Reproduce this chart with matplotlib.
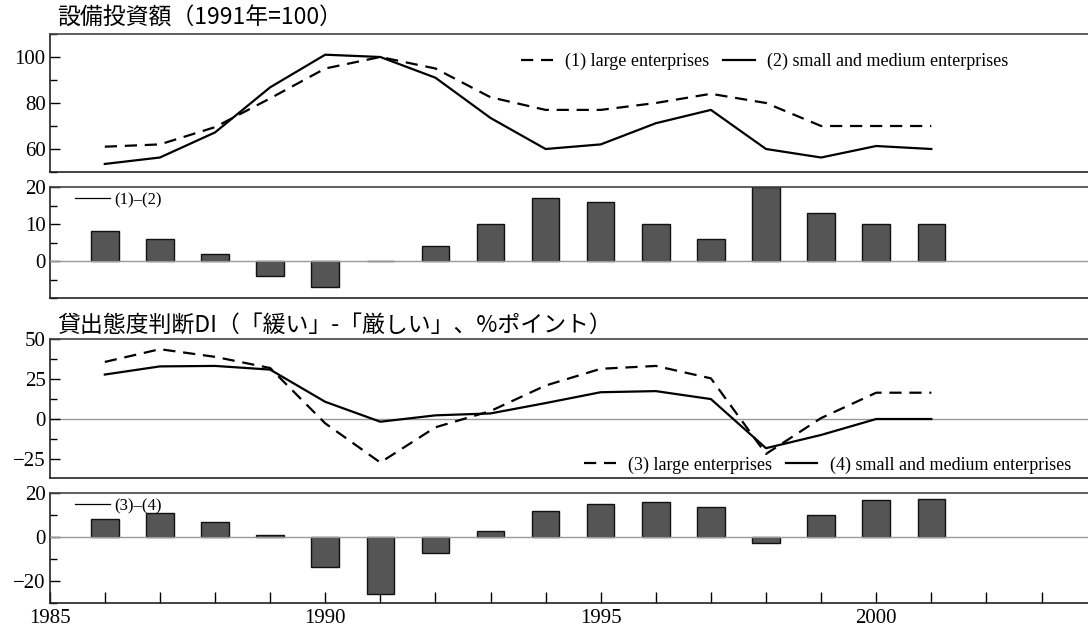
import matplotlib
matplotlib.use("Agg")
import matplotlib.pyplot as plt
import numpy as np
from matplotlib.ticker import MultipleLocator

years = list(range(1986, 2002))

# 設備投資額 (1991=100)
capex_large = [61, 62, 69.5, 82, 95, 100, 95, 82.5, 77, 77, 80, 84, 80, 70, 70, 70]
capex_sme = [53.5, 56.3, 67.2, 86.8, 101, 100, 91, 73.5, 60, 62, 71.2, 77, 60, 56.3, 61.3, 60]
capex_diff = [8, 6, 2, -4, -7, 0, 4, 10, 17, 16, 10, 6, 20, 13, 10, 10]

# 貸出態度判断DI
di_large = [35.8, 43.8, 39, 32, -2.7, -27.3, -5.2, 5, 21, 31.5, 33.3, 25.5, -21.9, 0.6, 16.5, 16.5]
di_sme = [27.9, 33, 33.3, 31, 10.8, -1.7, 2.3, 3.5, 10, 16.8, 17.5, 12.5, -18.3, -10, 0, 0]
di_diff = [8, 11, 6.5, 1, -13.5, -26, -7.5, 2.5, 11.5, 15, 16, 13.5, -3, 10, 16.5, 17]

title1 = "設備投資額（1991年=100）"
title2 = "貸出態度判断DI（「緩い」-「厳しい」、%ポイント）"

W, H = 1088, 628
serif = ["Liberation Serif", "DejaVu Serif"]
cjk = ["Noto Sans CJK JP", "DejaVu Sans"]
tick_size = 15

fig = plt.figure(figsize=(W / 100, H / 100), dpi=100)

left = 49.7 / W
xmin, xmax = 1985, 1985 + (W - 49.7) / 55.1


def make_ax(top_px, bot_px):
    ax = fig.add_axes([left, 1 - bot_px / H, 1 - left, (bot_px - top_px) / H])
    ax.set_xlim(xmin, xmax)
    for side in ["left", "bottom", "top"]:
        ax.spines[side].set_color("#222222")
        ax.spines[side].set_linewidth(1.2)
    ax.spines["top"].set_color("#444444")
    ax.spines["right"].set_visible(False)
    ax.tick_params(axis="y", which="both", direction="in", length=7, width=1,
                   labelsize=tick_size, pad=3)
    ax.tick_params(axis="y", which="minor", length=5)
    ax.tick_params(axis="x", which="both", bottom=False, labelbottom=False)
    return ax


def style_ticks(ax):
    for lab in ax.get_yticklabels() + ax.get_xticklabels():
        lab.set_family(serif)


line_kw = dict(color="black", lw=1.6)
dash_kw = dict(color="black", lw=1.6, dashes=(5.5, 3.5))
bar_kw = dict(width=0.5, color="#555555", edgecolor="#111111", linewidth=1, zorder=2)
zero_kw = dict(color="#999999", lw=1, zorder=3)
big_leg = dict(frameon=False, prop={"family": serif, "size": 13}, ncol=2,
               handlelength=1.75, handletextpad=0.7, columnspacing=0.75,
               borderpad=0, borderaxespad=0)
small_leg = dict(frameon=False, prop={"family": serif, "size": 12},
                 handlelength=2.1, handletextpad=0.3, borderpad=0, borderaxespad=0)

# panel 1
ax1 = make_ax(34, 172)
ax1.plot(years, capex_large, label="(1) large enterprises", **dash_kw)
ax1.plot(years, capex_sme, label="(2) small and medium enterprises", **line_kw)
ax1.set_ylim(50, 110)
ax1.set_yticks([60, 80, 100])
ax1.yaxis.set_minor_locator(MultipleLocator(10))
ax1.legend(loc="center left", bbox_to_anchor=(0.454, 0.80), **big_leg)
style_ticks(ax1)

# panel 2
ax2 = make_ax(187, 298)
ax2.bar(years, capex_diff, **bar_kw)
ax2.axhline(0, **zero_kw)
ax2.plot([], [], color="black", lw=0.9, label="(1)\u2013(2)")
ax2.set_ylim(-10, 20)
ax2.set_yticks([0, 10, 20])
ax2.yaxis.set_minor_locator(MultipleLocator(5))
ax2.legend(loc="center left", bbox_to_anchor=(0.024, 0.883), **small_leg)
style_ticks(ax2)

# panel 3
ax3 = make_ax(339.3, 478)
ax3.axhline(0, color="#999999", lw=1, zorder=0)
ax3.plot(years, di_large, label="(3) large enterprises", **dash_kw)
ax3.plot(years, di_sme, label="(4) small and medium enterprises", **line_kw)
ax3.set_ylim(-37, 50)
ax3.set_yticks([-25, 0, 25, 50])
ax3.yaxis.set_minor_locator(MultipleLocator(12.5))
ax3.legend(loc="center left", bbox_to_anchor=(0.5146, 0.094), **big_leg)
style_ticks(ax3)

# panel 4
ax4 = make_ax(492.7, 603)
ax4.bar(years, di_diff, **bar_kw)
ax4.axhline(0, **zero_kw)
ax4.plot([], [], color="black", lw=0.9, label="(3)\u2013(4)")
ax4.set_ylim(-30, 20)
ax4.set_yticks([-20, 0, 20])
ax4.yaxis.set_minor_locator(MultipleLocator(10))
ax4.legend(loc="center left", bbox_to_anchor=(0.024, 0.879), **small_leg)
ax4.tick_params(axis="x", which="both", bottom=True, labelbottom=True,
                direction="in", length=8, width=1, labelsize=tick_size, pad=4)
ax4.set_xticks([1985, 1990, 1995, 2000])
ax4.xaxis.set_minor_locator(MultipleLocator(1))
style_ticks(ax4)

fig.text(57 / W, 1 - 18 / H, title1, family=cjk, fontsize=16.5, va="center", ha="left")
fig.text(57 / W, 1 - 325 / H, title2, family=cjk, fontsize=16.5, va="center", ha="left")

fig.savefig("out.png", dpi=100)
